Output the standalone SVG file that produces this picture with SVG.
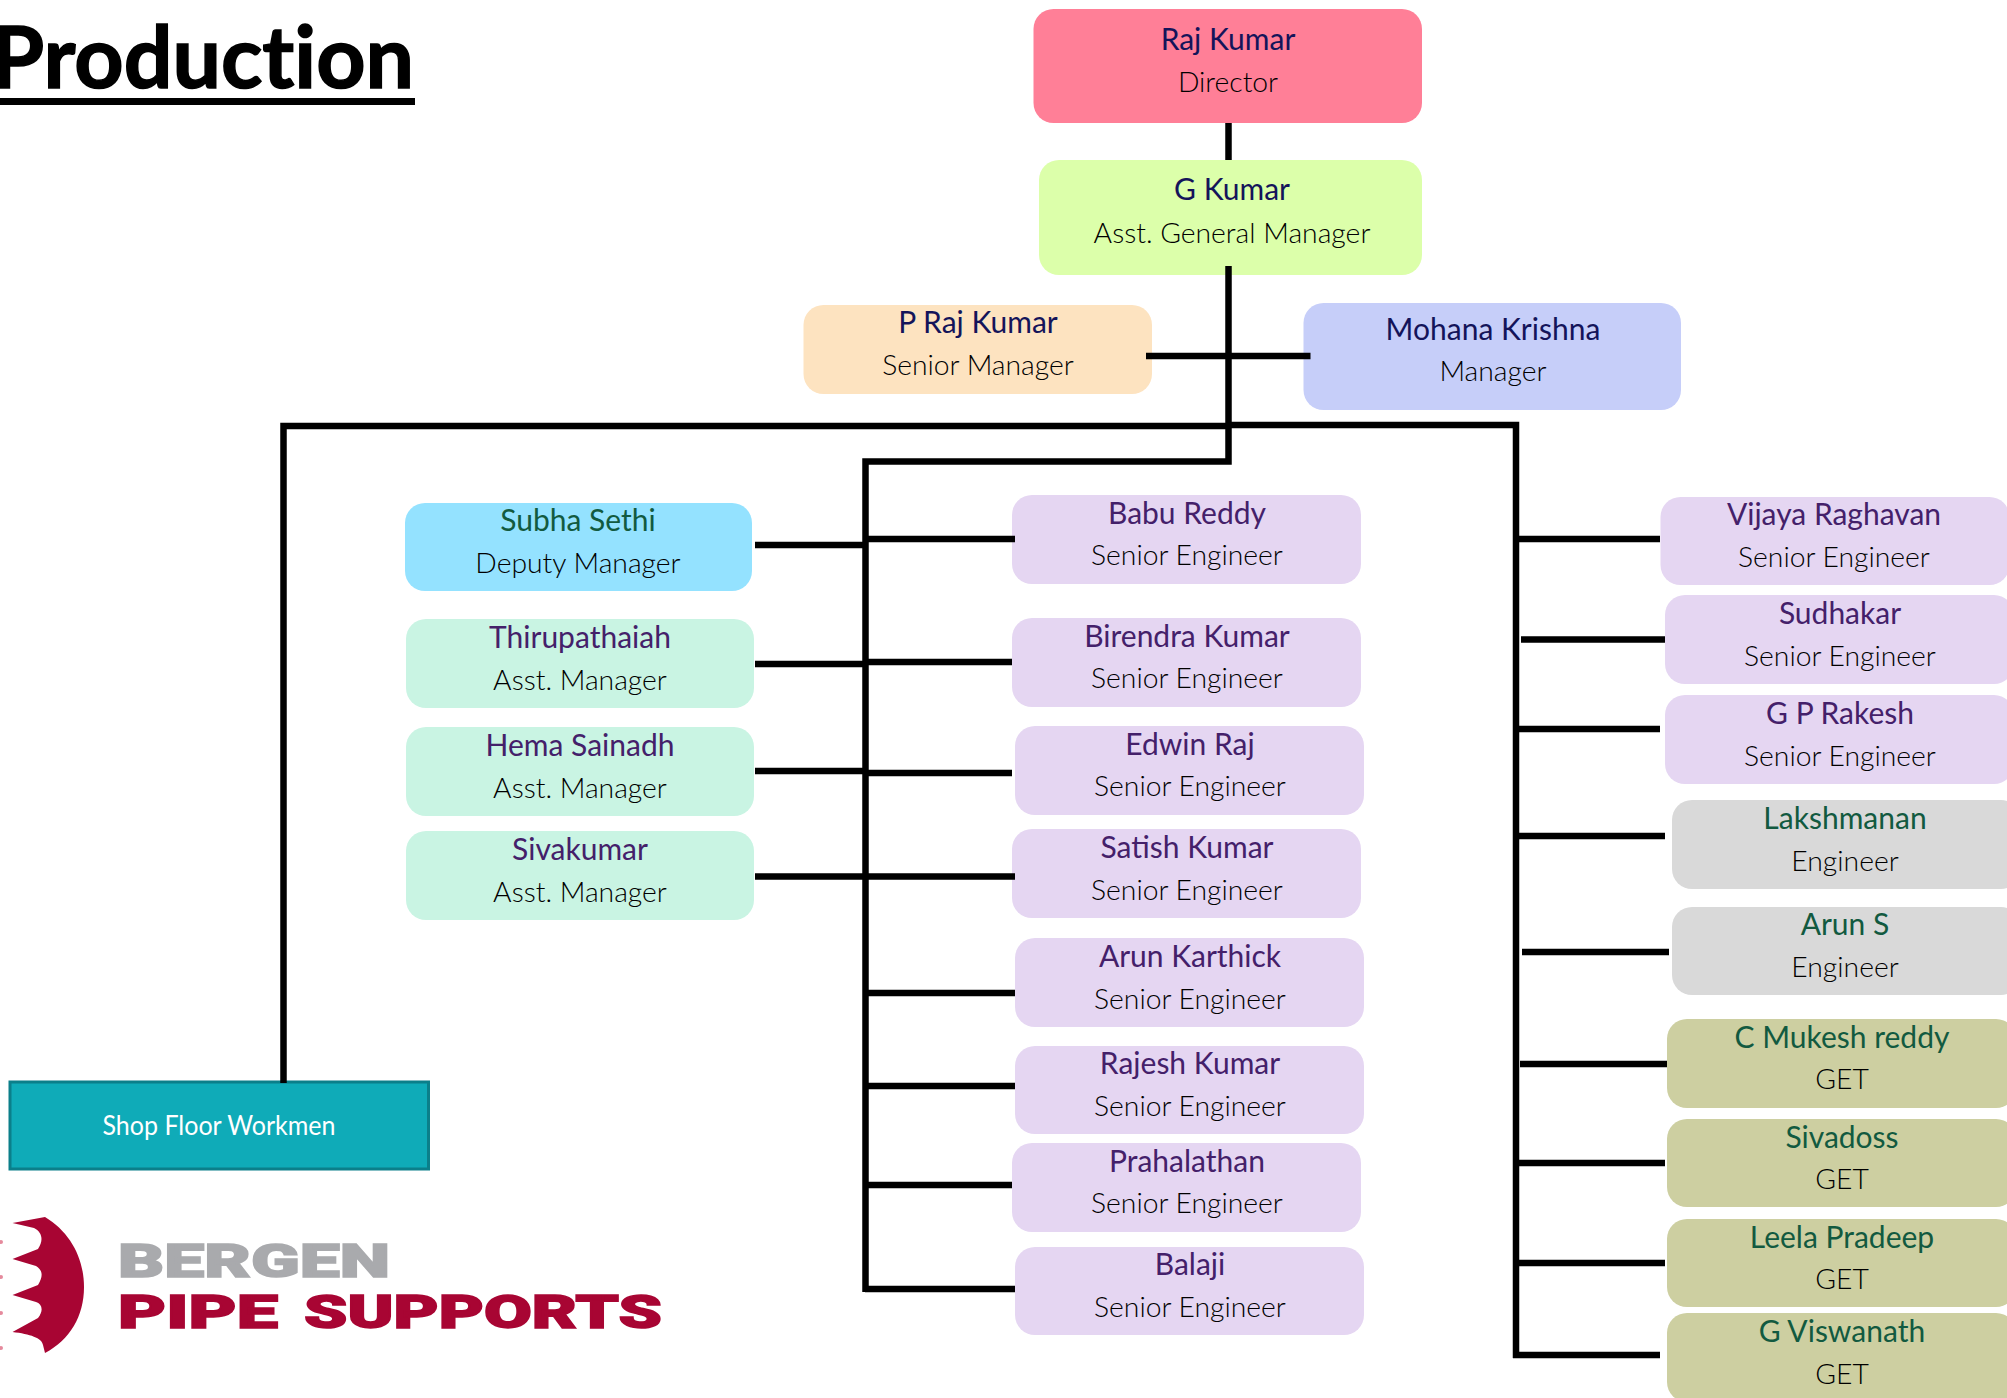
<svg xmlns="http://www.w3.org/2000/svg" width="2007" height="1398" viewBox="0 0 2007 1398">
<style>
text{font-family:Lato,"Open Sans",sans-serif;text-anchor:middle}
.n{font-size:30px;fill:#44206a}
.t{font-size:30px;fill:#14145a}
.g{font-size:30px;fill:#125a40}
.r{font-size:28.300px;font-weight:300;fill:#000}
.b rect{rx:20px;ry:20px}
.pink{fill:#ff7f97}.lime{fill:#dcffaa}.peach{fill:#fde3c0}.blue{fill:#c6cef9}.cyan{fill:#94e2ff}.mint{fill:#c9f4e3}.lilac{fill:#e5d6f2}.gray{fill:#d9d9d9}.olive{fill:#cdcfa1}
#connectors path{fill:none;stroke:#000;stroke-width:6.500}
.logo{font-family:Roboto,sans-serif;font-weight:900;font-size:46px;text-anchor:start;stroke-width:1.500}
</style>
<g id="title"><text x="-9" y="88" style="font-weight:700;font-size:87px;text-anchor:start;fill:#000;stroke:#000;stroke-width:1.500;font-variant-ligatures:none" textLength="423" lengthAdjust="spacingAndGlyphs">Production</text><rect x="0" y="98" width="415" height="7" fill="#000"/></g>
<g id="n-raj" class="b"><rect class="pink" x="1033.5" y="9" width="388.500" height="114"/><text class="t" x="1228" y="50">Raj Kumar</text><text class="r" x="1228" y="92">Director</text></g>
<g id="n-gkumar" class="b"><rect class="lime" x="1039" y="160" width="383" height="115"/><text class="t" x="1232" y="200">G Kumar</text><text class="r" x="1232" y="243">Asst. General Manager</text></g>
<g id="n-praj" class="b"><rect class="peach" x="803.500" y="305" width="348.500" height="89"/><text class="t" x="978" y="333">P Raj Kumar</text><text class="r" x="978" y="375">Senior Manager</text></g>
<g id="n-mohana" class="b"><rect class="blue" x="1303.500" y="303" width="377.500" height="107"/><text class="t" x="1493" y="340">Mohana Krishna</text><text class="r" x="1493" y="381">Manager</text></g>
<g id="n-subha" class="b"><rect class="cyan" x="405" y="503" width="347" height="88"/><text class="g" x="578" y="531">Subha Sethi</text><text class="r" x="578" y="573">Deputy Manager</text></g>
<g id="n-thiru" class="b"><rect class="mint" x="406" y="619" width="348" height="89"/><text class="n" x="580" y="648">Thirupathaiah</text><text class="r" x="580" y="690">Asst. Manager</text></g>
<g id="n-hema" class="b"><rect class="mint" x="406" y="727" width="348" height="89"/><text class="n" x="580" y="756">Hema Sainadh</text><text class="r" x="580" y="798">Asst. Manager</text></g>
<g id="n-siva" class="b"><rect class="mint" x="406" y="831" width="348" height="89"/><text class="n" x="580" y="860">Sivakumar</text><text class="r" x="580" y="902">Asst. Manager</text></g>
<g id="n-babu" class="b"><rect class="lilac" x="1012" y="495" width="349" height="89"/><text class="n" x="1187" y="524">Babu Reddy</text><text class="r" x="1187" y="565">Senior Engineer</text></g>
<g id="n-birendra" class="b"><rect class="lilac" x="1012" y="618" width="349" height="89"/><text class="n" x="1187" y="647">Birendra Kumar</text><text class="r" x="1187" y="688">Senior Engineer</text></g>
<g id="n-edwin" class="b"><rect class="lilac" x="1015" y="726" width="349" height="89"/><text class="n" x="1190" y="755">Edwin Raj</text><text class="r" x="1190" y="796">Senior Engineer</text></g>
<g id="n-satish" class="b"><rect class="lilac" x="1012" y="829" width="349" height="89"/><text class="n" x="1187" y="858">Satish Kumar</text><text class="r" x="1187" y="900">Senior Engineer</text></g>
<g id="n-arunk" class="b"><rect class="lilac" x="1015" y="938" width="349" height="89"/><text class="n" x="1190" y="967">Arun Karthick</text><text class="r" x="1190" y="1009">Senior Engineer</text></g>
<g id="n-rajesh" class="b"><rect class="lilac" x="1015" y="1046" width="349" height="88"/><text class="n" x="1190" y="1074">Rajesh Kumar</text><text class="r" x="1190" y="1116">Senior Engineer</text></g>
<g id="n-prahal" class="b"><rect class="lilac" x="1012" y="1143" width="349" height="89"/><text class="n" x="1187" y="1172">Prahalathan</text><text class="r" x="1187" y="1213">Senior Engineer</text></g>
<g id="n-balaji" class="b"><rect class="lilac" x="1015" y="1247" width="349" height="88"/><text class="n" x="1190" y="1275">Balaji</text><text class="r" x="1190" y="1317">Senior Engineer</text></g>
<g id="n-vijaya" class="b"><rect class="lilac" x="1660.500" y="497" width="349" height="88"/><text class="n" x="1834" y="525">Vijaya Raghavan</text><text class="r" x="1834" y="567">Senior Engineer</text></g>
<g id="n-sudhakar" class="b"><rect class="lilac" x="1665" y="595" width="349" height="89"/><text class="n" x="1840" y="624">Sudhakar</text><text class="r" x="1840" y="666">Senior Engineer</text></g>
<g id="n-rakesh" class="b"><rect class="lilac" x="1665" y="695" width="349" height="89"/><text class="n" x="1840" y="724">G P Rakesh</text><text class="r" x="1840" y="766">Senior Engineer</text></g>
<g id="n-laksh" class="b"><rect class="gray" x="1672" y="800" width="349" height="89"/><text class="g" x="1845" y="829">Lakshmanan</text><text class="r" x="1845" y="871">Engineer</text></g>
<g id="n-aruns" class="b"><rect class="gray" x="1672" y="907" width="349" height="88"/><text class="g" x="1845" y="935">Arun S</text><text class="r" x="1845" y="977">Engineer</text></g>
<g id="n-mukesh" class="b"><rect class="olive" x="1667" y="1019" width="349" height="89"/><text class="g" x="1842" y="1048">C Mukesh reddy</text><text class="r" x="1842" y="1089">GET</text></g>
<g id="n-sivadoss" class="b"><rect class="olive" x="1667" y="1119" width="349" height="88"/><text class="g" x="1842" y="1148">Sivadoss</text><text class="r" x="1842" y="1189">GET</text></g>
<g id="n-leela" class="b"><rect class="olive" x="1667" y="1219" width="349" height="88"/><text class="g" x="1842" y="1248">Leela Pradeep</text><text class="r" x="1842" y="1289">GET</text></g>
<g id="n-viswanath" class="b"><rect class="olive" x="1667" y="1313" width="349" height="89"/><text class="g" x="1842" y="1342">G Viswanath</text><text class="r" x="1842" y="1384">GET</text></g>
<g id="n-shop"><rect x="10" y="1082" width="418.500" height="87" fill="#0fabb8" stroke="#0b7f8a" stroke-width="3"/><text x="219" y="1135" style="font-size:26px;fill:#fff" textLength="233" lengthAdjust="spacingAndGlyphs">Shop Floor Workmen</text></g>
<g id="connectors">
<path d="M1228.500 123V160M1228.500 266V461.500H865.500V1292"/>
<path d="M1146 356H1310.500"/>
<path d="M1228.500 426H283.500V1083"/>
<path d="M1228.500 425H1516V1358"/>
<path d="M755 545H865M868 539H1015M755 664H865M868 662H1012M755 771H865M868 773H1012M755 876.500H1015"/>
<path d="M868 993H1015M868 1086H1015M868 1185H1012M865 1289H1015"/>
<path d="M1516 539H1660M1521 639.500H1665M1516 729H1660M1516 836H1665M1522 952H1669M1520 1064H1667M1516 1163H1665M1516 1263H1665M1513 1355H1660"/>
</g>
<g id="logo">
<path fill="#a80533" d="M45 1217C70 1232 84 1258 84 1287C84 1316 70 1340 45 1353L43 1345C42 1338 30 1334 12.500 1332L38 1318C44 1310 42 1304 36 1302L12.500 1295L38 1285C44 1275 42 1270 36 1266L12.500 1259L38 1249C44 1240 42 1232 34 1228L12.500 1223Z"/>
<g fill="#e58a9c"><circle cx="1" cy="1242" r="2"/><circle cx="1" cy="1277" r="2"/><circle cx="1" cy="1313" r="2"/><circle cx="1" cy="1348" r="2"/></g>
<text class="logo" x="118" y="1277" fill="#a9aaad" stroke="#a9aaad" textLength="272" lengthAdjust="spacingAndGlyphs">BERGEN</text>
<text class="logo" x="118" y="1327.500" fill="#a80533" stroke="#a80533" textLength="160" lengthAdjust="spacingAndGlyphs">PIPE</text>
<text class="logo" x="304" y="1327.500" fill="#a80533" stroke="#a80533" textLength="358" lengthAdjust="spacingAndGlyphs">SUPPORTS</text>
</g>
</svg>
